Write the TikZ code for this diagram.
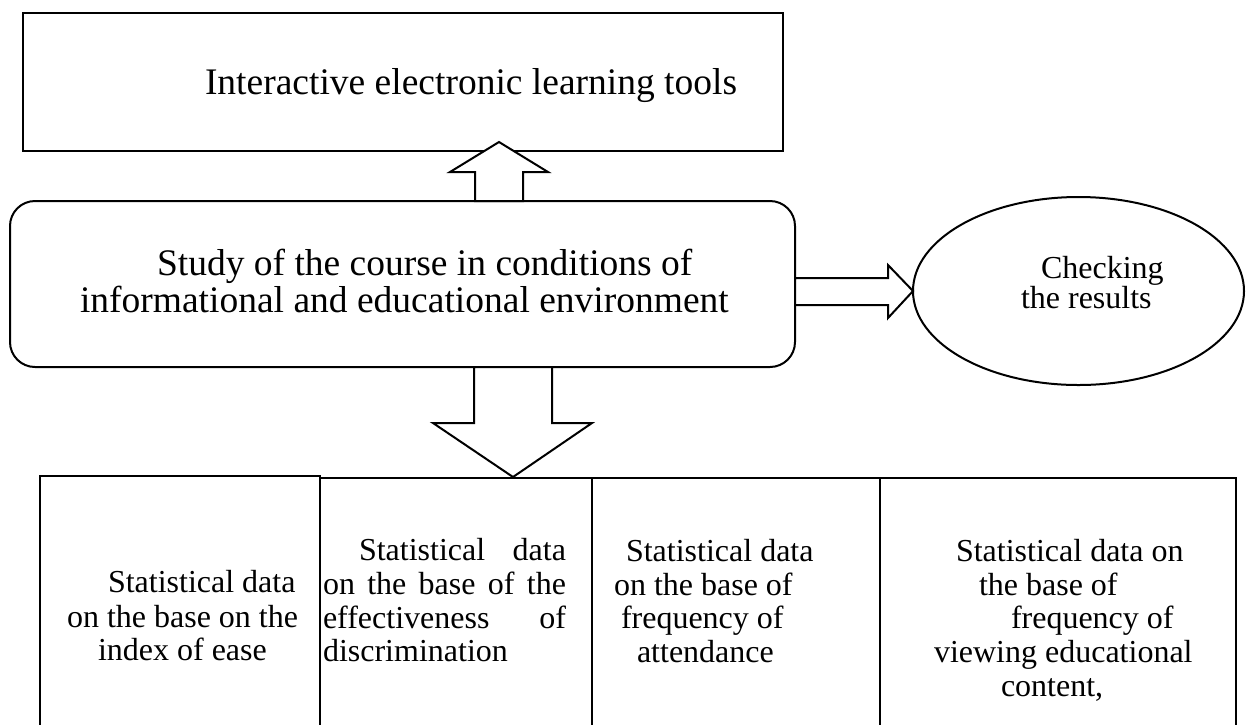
\documentclass[tikz,border=0pt]{standalone}
\usepackage{fontspec}
\setmainfont{Liberation Serif}
\usetikzlibrary{shapes.geometric}
\begin{document}
\begin{tikzpicture}[x=1pt,y=-1pt,line width=2pt,
  big/.style={font=\fontsize{37.5}{38}\selectfont,inner sep=0pt,anchor=base west},
  small/.style={font=\fontsize{32}{34}\selectfont,inner sep=0pt,anchor=base west},
  box/.style={draw,line width=2pt,inner sep=0pt,outer sep=0pt,anchor=north west},
  blockarrow/.style={draw,fill=white,line width=2pt,line join=miter}]
\useasboundingbox (0,0) rectangle (1246,724);
\clip (0,0) rectangle (1246,724);
% shapes
\node[box,minimum width=760pt,minimum height=138pt] (top) at (23,13) {};
\node[box,rounded corners=25pt,minimum width=785pt,minimum height=166pt] (mid) at (10,201) {};
\node[draw,ellipse,line width=2pt,inner sep=0pt,minimum width=331pt,minimum height=188pt] (chk) at (1078.5,291) {};
\node[box,minimum width=280pt,minimum height=280pt] (b1) at (40,476) {};
\node[box,minimum width=272pt,minimum height=280pt] (b2) at (320,478) {};
\node[box,minimum width=288pt,minimum height=280pt] (b3) at (592,478) {};
\node[box,minimum width=356pt,minimum height=280pt] (b4) at (880,478) {};
% block arrows
\draw[blockarrow] (475,201) -- (475,172) -- (450,172) -- (499,142) -- (548,172) -- (523,172) -- (523,201) -- cycle;
\draw[blockarrow] (474,367) -- (474,423) -- (433,423) -- (513,477) -- (592,423) -- (552,423) -- (552,367) -- cycle;
\draw[blockarrow] (795,278) -- (888,278) -- (888,265) -- (913,291) -- (888,318) -- (888,305) -- (795,305) -- cycle;
% texts
\node[big] (ttop) at (204,94) {Interactive electronic learning tools};
\node[big] (tm1) at (156,275) {Study of the course in conditions of};
\node[big] (tm2) at (79,312) {informational and educational environment};
\node[small] (tc1) at (1040,278) {Checking};
\node[small] (tc2) at (1020,308) {the results};
\node[small] (a1) at (107,592) {Statistical data};
\node[small] (a2) at (66,627) {on the base on the};
\node[small] (a3) at (97,660) {index of ease};
\node[small] (c1) at (358,560) {\makebox[207pt][s]{Statistical data}};
\node[small] (c2) at (322,594) {\makebox[243pt][s]{on the base of the}};
\node[small] (c3) at (322,628) {\makebox[243pt][s]{effectiveness of}};
\node[small] (c4) at (322,661) {discrimination};
\node[small] (d1) at (625,561) {Statistical data};
\node[small] (d2) at (613,595) {on the base of};
\node[small] (d3) at (620,628) {frequency of};
\node[small] (d4) at (636,662) {attendance};
\node[small] (e1) at (955,561) {Statistical data on};
\node[small] (e2) at (978,595) {the base of};
\node[small] (e3) at (1010,628) {frequency of};
\node[small] (e4) at (933,662) {viewing educational};
\node[small] (e5) at (1000,696) {content,};
\end{tikzpicture}
\end{document}
